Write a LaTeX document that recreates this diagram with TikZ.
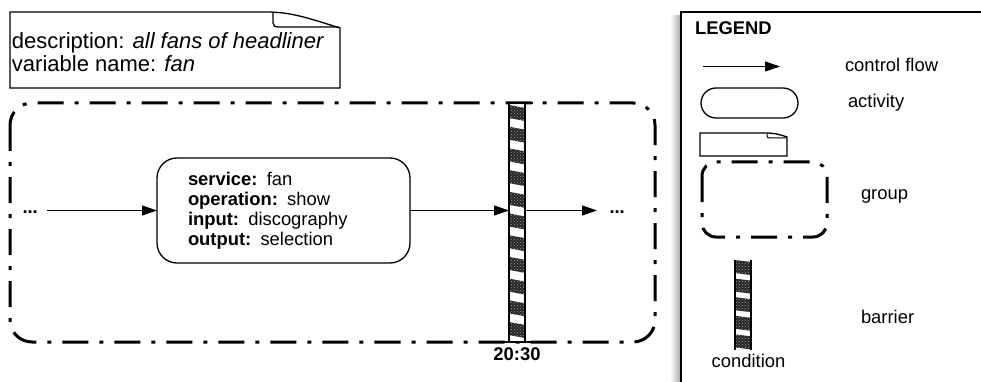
\documentclass[tikz,border=0pt]{standalone}
\usepackage{fontspec}
\setmainfont{Liberation Sans}
\usetikzlibrary{arrows.meta,patterns}
\begin{document}
\begin{tikzpicture}[x=1pt,y=-1pt,
  every node/.style={inner sep=0pt, outer sep=0pt, font=\fontsize{18.4}{20}\selectfont},
  flow/.style={line width=1.1pt, -{Triangle[length=15pt,width=10pt]}},
  groupbox/.style={line width=3pt, dash pattern=on 26pt off 11pt on 4pt off 11pt, rounded corners=22pt},
  legendgroup/.style={line width=3pt, dash pattern=on 26pt off 11pt on 4pt off 11pt, rounded corners=14pt},
  activity/.style={draw, line width=1.3pt, rounded corners=20pt},
  notebox/.style={line width=1.3pt},
  darkblock/.style={fill=black!85, postaction={pattern=crosshatch dots, pattern color=gray!80}},
  barside/.style={line width=1.2pt},
  notefont/.style={font=\fontsize{22}{22.5}\selectfont},
]
\useasboundingbox (0,0) rectangle (981,382);

% ---------- note ----------
\draw[notebox] (10,12) -- (266,12) .. controls (290,12) and (305,17) .. (340,28) -- (340,88) -- (10,88) -- cycle;
\draw[notebox] (273,13) -- (273,23) .. controls (273,26) and (275,27) .. (279,27) -- (339,27);
\node[notefont, anchor=north west, align=left] (note) at (12,33)
  {description: \textit{all fans of headliner}\\variable name: \textit{fan}};

% ---------- group ----------
\draw[groupbox] (10,103) rectangle (655,342);

% ---------- activity ----------
\node[activity, minimum width=253pt, minimum height=105pt, text width=191pt,
      inner xsep=31pt, align=left] (act) at (283.5,210.5)
  {\textbf{service:} fan\\\textbf{operation:} show\\\textbf{input:} discography\\\textbf{output:} selection};

% ---------- dots ----------
\node[anchor=base west, font=\bfseries\fontsize{18.4}{20}\selectfont] (dotsL) at (22.5,213) {...};
\node[anchor=base west, font=\bfseries\fontsize{18.4}{20}\selectfont] (dotsR) at (609.5,213) {...};
\coordinate (L0) at (47,210.5);
\coordinate (R1) at (597,210.5);

% ---------- barrier ----------
\node[minimum width=16pt, minimum height=239pt] (bar) at (517,222.5) {};
\fill[white] (509,103) rectangle (525,342);
\foreach \i in {0,...,10} {
  \pgfmathsetmacro\yy{105+21.7*\i}
  \fill[darkblock] (509,\yy) -- (525,\yy+3) -- (525,\yy+16) -- (509,\yy+13) -- cycle;
}
\draw[barside] (509,103) -- (509,342) (525,103) -- (525,342);
\draw[line width=2.5pt] (509,103) -- (533,103);
\draw[line width=2.5pt] (503,342) -- (540,342);
\node[anchor=base, font=\bfseries\fontsize{18.4}{20}\selectfont] (time) at (517,360) {20:30};

% ---------- flows ----------
\draw[flow] (L0) -- (act.west);
\draw[flow] (act.east) -- (act.east -| bar.west);
\draw[flow] (act.east -| bar.east) -- (R1);

% ---------- legend ----------
\shade[left color=white, right color=black!35] (670,16) rectangle (681,392);
\draw[line width=1.5pt, fill=white] (681,12) rectangle (995,395);
\node[anchor=base west, font=\bfseries\fontsize{18.4}{20}\selectfont] (legend) at (695,35) {LEGEND};

\coordinate (la1) at (703,66.5);
\coordinate (la2) at (780,66.5);
\draw[flow] (la1) -- (la2);
\node[anchor=base west] (lflow) at (845,72) {control flow};

\node[draw, line width=1.3pt, rounded corners=15pt, minimum width=97pt, minimum height=30pt] (lact) at (749.5,103) {};
\node[anchor=base west] (lacttext) at (848,108) {activity};

\draw[notebox] (700,133) -- (766,133) .. controls (774,133) and (778,134) .. (787,137) -- (787,156) -- (700,156) -- cycle;
\draw[line width=1pt] (767,133.5) -- (767,136) .. controls (767,137.5) and (768,138) .. (770,138) -- (786.5,138);

\draw[legendgroup] (702,162) rectangle (827,237);
\node[anchor=base west] (lgroup) at (861,199) {group};

\node[minimum width=16pt, minimum height=90pt] (lbar) at (743,305) {};
\fill[white] (735,260) rectangle (751,350);
\foreach \i in {0,...,4} {
  \pgfmathsetmacro\yy{260+18.6*\i}
  \fill[darkblock] (735,\yy) -- (751,\yy+2) -- (751,\yy+15) -- (735,\yy+13) -- cycle;
}
\draw[barside] (735,260) -- (735,350) (751,260) -- (751,350);
\node[anchor=base] (lcond) at (748.5,367) {condition};
\node[anchor=base west] (lbartext) at (861,323) {barrier};
\end{tikzpicture}
\end{document}
